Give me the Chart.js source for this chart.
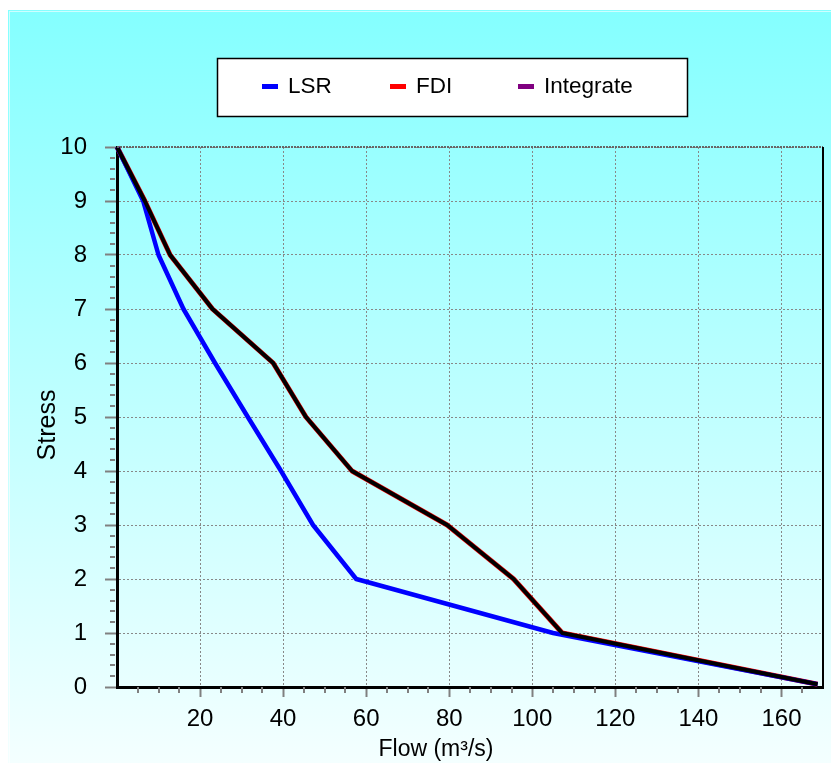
<!DOCTYPE html>
<html>
<head>
<meta charset="utf-8">
<script src="https://cdn.jsdelivr.net/npm/chart.js@4/dist/chart.umd.min.js"></script>
<style>
  html, body { margin: 0; padding: 0; background: #fff; }
  canvas { display: block; }
</style>
</head>
<body>
<canvas id="myChart" width="831" height="763"></canvas>
<script>
// series
const seriesNames = ["LSR", "FDI", "Integrate"];
const legendColors = ["#0000ff", "#ff0000", "#800080"];

const lsrFlow = [0, 6.3, 10, 16, 23.6, 31.5, 39.5, 47.2, 57.6, 105, 168.7];
const lsrStress = [10, 9, 8, 7, 6, 5, 4, 3, 2, 1, 0.05];

const fdiFlow = [0, 6.7, 12.8, 23, 37.6, 45.5, 56.6, 79.5, 95.5, 107.2, 168.7];
const fdiStress = [10, 9, 8, 7, 6, 5, 4, 3, 2, 1, 0.05];

const intFlow = [0, 6.7, 12.8, 23, 37.6, 45.5, 56.6, 79.5, 95.5, 107.2, 168.7];
const intStress = [10, 9, 8, 7, 6, 5, 4, 3, 2, 1, 0.05];

const xTicks = [20, 40, 60, 80, 100, 120, 140, 160];
const yTicks = [0, 1, 2, 3, 4, 5, 6, 7, 8, 9, 10];

const FONT = "'Liberation Sans', Arial, sans-serif";
Chart.defaults.font.family = FONT;

const pts = (xs, ys) => xs.map((x, i) => ({ x: x, y: ys[i] }));

const decor = {
  id: "decor",
  beforeDraw: (chart) => {
    const { ctx, width, height } = chart;
    ctx.save();
    ctx.fillStyle = "#ffffff";
    ctx.fillRect(0, 0, width, height);
    const g = ctx.createLinearGradient(0, 10, 0, height);
    g.addColorStop(0, "#84ffff");
    g.addColorStop(1, "#f4ffff");
    ctx.fillStyle = g;
    ctx.fillRect(8, 10, width - 8, height - 10);
    ctx.strokeStyle = "rgba(255,255,255,0.6)";
    ctx.lineWidth = 1;
    ctx.strokeRect(9.5, 11.5, width, height);
    ctx.restore();
  },
  afterDraw: (chart) => {
    const { ctx, chartArea: a } = chart;
    const xs = chart.scales.x, ys = chart.scales.y;
    ctx.save();
    // minor ticks
    ctx.strokeStyle = "#808080";
    ctx.lineWidth = 2;
    ctx.beginPath();
    for (let v = 5; v < 170; v += 5) {
      if (v % 20 === 0) continue;
      const px = Math.round(xs.getPixelForValue(v));
      ctx.moveTo(px, a.bottom);
      ctx.lineTo(px, a.bottom + 6);
    }
    for (let k = 1; k < 50; k++) {
      if (k % 5 === 0) continue;
      const py = Math.round(ys.getPixelForValue(k / 5));
      ctx.moveTo(a.left - 7, py);
      ctx.lineTo(a.left - 2, py);
    }
    ctx.stroke();
    // top and right frame
    ctx.strokeStyle = "#666666";
    ctx.setLineDash([2, 1]);
    ctx.beginPath();
    ctx.moveTo(a.left, a.top);
    ctx.lineTo(a.right, a.top);
    ctx.stroke();
    ctx.setLineDash([]);
    ctx.strokeStyle = "#000000";
    ctx.beginPath();
    ctx.moveTo(a.right, a.top);
    ctx.lineTo(a.right, a.bottom + 1);
    ctx.stroke();

    // legend box
    ctx.fillStyle = "#ffffff";
    ctx.fillRect(217, 58, 470, 58);
    ctx.strokeStyle = "#000000";
    ctx.lineWidth = 1.5;
    ctx.strokeRect(217.5, 58.5, 470, 58);
    ctx.font = "22.5px " + FONT;
    ctx.textBaseline = "middle";
    ctx.textAlign = "left";
    seriesNames.forEach((name, i) => {
      const sx = 262 + i * 128;
      ctx.fillStyle = legendColors[i];
      ctx.fillRect(sx, 84, 16, 5);
      ctx.fillStyle = "#000000";
      ctx.fillText(name, sx + 26, 87);
    });

    // axis titles
    ctx.font = "23px " + FONT;
    ctx.textAlign = "center";
    ctx.fillStyle = "#000000";
    ctx.fillText("Flow (m\u00b3/s)", 436, 750);
    ctx.font = "25px " + FONT;
    ctx.translate(48, 425);
    ctx.rotate(-Math.PI / 2);
    ctx.fillText("Stress", 0, 0);
    ctx.restore();
  },
};

new Chart(document.getElementById("myChart"), {
  type: "line",
  data: {
    datasets: [
      { label: seriesNames[0], data: pts(lsrFlow, lsrStress), borderColor: "#0000ff", borderWidth: 4.5, order: 1 },
      { label: seriesNames[1], data: pts(fdiFlow, fdiStress), borderColor: "#ff0000", borderWidth: 5, order: 2 },
      { label: seriesNames[2], data: pts(intFlow, intStress), borderColor: "#000000", borderWidth: 4, order: 0 },
    ],
  },
  options: {
    responsive: false,
    animation: false,
    devicePixelRatio: 1,
    elements: { point: { radius: 0 }, line: { tension: 0, borderJoinStyle: "round" } },
    datasets: { line: { clip: false } },
    layout: { autoPadding: false, padding: { top: 147, right: 8, left: 0, bottom: 0 } },
    plugins: { legend: { display: false }, title: { display: false }, tooltip: { enabled: false } },
    scales: {
      x: {
        type: "linear",
        min: 0,
        max: 170,
        afterBuildTicks: (s) => { s.ticks = xTicks.map((v) => ({ value: v })); },
        afterFit: (s) => { s.height = 76; },
        ticks: { color: "#000", font: { size: 24 }, padding: 8, maxRotation: 0 },
        grid: { color: "#888888", lineWidth: 1, tickColor: "#808080", tickWidth: 2, tickLength: 10, tickBorderDash: [] },
        border: { display: true, color: "#000000", width: 3, dash: [2, 2] },
      },
      y: {
        min: 0,
        max: 10,
        afterBuildTicks: (s) => { s.ticks = yTicks.map((v) => ({ value: v })); },
        afterFit: (s) => { s.width = 117; },
        ticks: { color: "#000", font: { size: 24 }, padding: 18 },
        grid: { color: "#888888", lineWidth: 1, tickColor: "#808080", tickWidth: 2, tickLength: 12, tickBorderDash: [] },
        border: { display: true, color: "#000000", width: 3, dash: [2, 2] },
      },
    },
  },
  plugins: [decor],
});
</script>
</body>
</html>
